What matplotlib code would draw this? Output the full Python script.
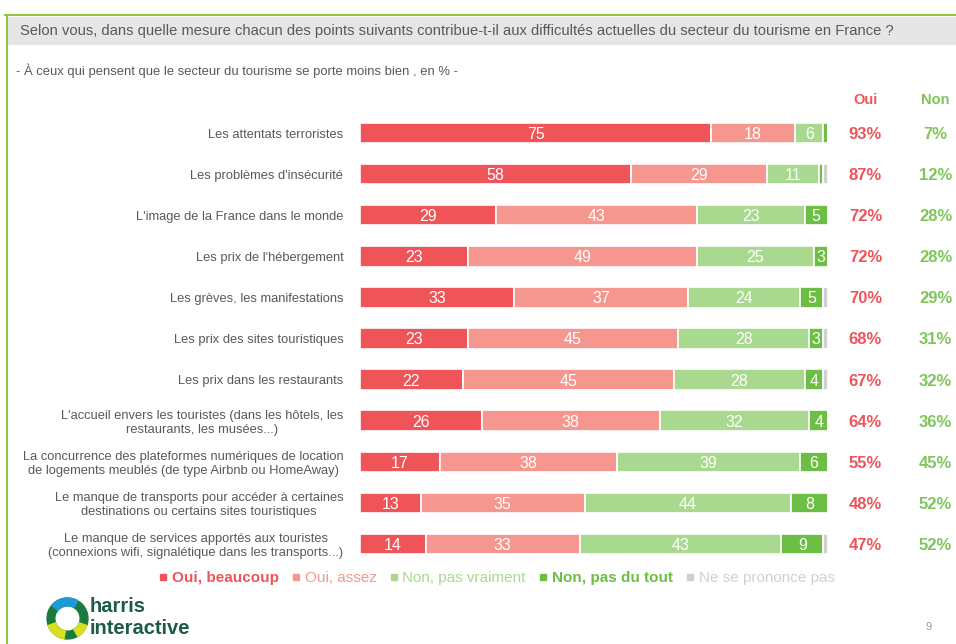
import numpy as np
import matplotlib.pyplot as plt
from matplotlib.lines import Line2D
from matplotlib.patches import Wedge, Rectangle

plt.rcParams['font.family'] = ['Liberation Sans', 'DejaVu Sans']

# donnees
items = [
    "Les attentats terroristes",
    "Les problèmes d'insécurité",
    "L'image de la France dans le monde",
    "Les prix de l'hébergement",
    "Les grèves, les manifestations",
    "Les prix des sites touristiques",
    "Les prix dans les restaurants",
    "L'accueil envers les touristes (dans les hôtels, les\nrestaurants, les musées...)",
    "La concurrence des plateformes numériques de location\nde logements meublés (de type Airbnb ou HomeAway)",
    "Le manque de transports pour accéder à certaines\ndestinations ou certains sites touristiques",
    "Le manque de services apportés aux touristes\n(connexions wifi, signalétique dans les transports...)",
]
oui_beaucoup = [75, 58, 29, 23, 33, 23, 22, 26, 17, 13, 14]
oui_assez = [18, 29, 43, 49, 37, 45, 45, 38, 38, 35, 33]
non_pas_vraiment = [6, 11, 23, 25, 24, 28, 28, 32, 39, 44, 43]
non_pas_du_tout = [1, 1, 5, 3, 5, 3, 4, 4, 6, 8, 9]
nsp = [0, 1, 0, 0, 1, 1, 1, 0, 0, 0, 1]
total_oui = [93, 87, 72, 72, 70, 68, 67, 64, 55, 48, 47]
total_non = [7, 12, 28, 28, 29, 31, 32, 36, 45, 52, 52]

series_names = ["Oui, beaucoup", "Oui, assez", "Non, pas vraiment", "Non, pas du tout", "Ne se prononce pas"]
colors = ['#EF5459', '#F5978F', '#A9D98F', '#6DBE45', '#D0D0D0']
gris = '#595959'
rouge_txt = '#EF5459'
vert_txt = '#7DC65A'

fig = plt.figure(figsize=(9.56, 6.44), dpi=100)

# cadre vert + bandeau titre
fig.add_artist(Line2D([5/956, 1], [1-15/644, 1-15/644], color='#8DC63F', lw=1.5))
fig.add_artist(Line2D([7/956, 7/956], [0, 1-15/644], color='#8DC63F', lw=1.5))
fig.add_artist(Rectangle((8/956, 1-45/644), 1, 28/644, color='#E6E6E6', lw=0))
fig.text(20/956, 1-31/644, "Selon vous, dans quelle mesure chacun des points suivants contribue-t-il aux difficultés actuelles du secteur du tourisme en France ?",
         fontsize=10.6, color=gris, va='center')
fig.text(16/956, 1-71/644, "- À ceux qui pensent que le secteur du tourisme se porte moins bien , en % -",
         fontsize=9.4, color=gris, va='center')

ax = fig.add_axes([360/956, 1-564.5/644, 468/956, 452/644])
y = np.arange(len(items))
data = [oui_beaucoup, oui_assez, non_pas_vraiment, non_pas_du_tout, nsp]
left = np.zeros(len(items))
for vals, col in zip(data, colors):
    vals = np.array(vals)
    ax.barh(y, vals, left=left, height=0.5, color=col, edgecolor='white', linewidth=1.2)
    for yi, v, l in zip(y, vals, left):
        if v >= 3:
            ax.text(l + v/2, yi, str(v), ha='center', va='center_baseline', color='white', fontsize=11.5)
    left += vals

ax.set_xlim(0, 100)
ax.set_ylim(len(items)-0.5, -0.5)
ax.set_yticks(y)
ax.set_yticklabels(items, fontsize=9.3, color=gris, multialignment='center')
ax.tick_params(axis='y', length=0, pad=12)
ax.set_xticks([])
for s in ax.spines.values():
    s.set_visible(False)

# colonnes Oui / Non
for yi, o, n in zip(y, total_oui, total_non):
    ax.text(108, yi, f"{o}%", ha='center', va='center_baseline', color=rouge_txt, fontsize=12, fontweight='bold', clip_on=False)
    ax.text(123, yi, f"{n}%", ha='center', va='center_baseline', color=vert_txt, fontsize=12, fontweight='bold', clip_on=False)
ax.text(108, -0.8, "Oui", ha='center', va='center', color=rouge_txt, fontsize=10.5, fontweight='bold', clip_on=False)
ax.text(123, -0.8, "Non", ha='center', va='center', color=vert_txt, fontsize=10.5, fontweight='bold', clip_on=False)

# legende
handles = [Line2D([], [], marker='s', ls='', color=c, markersize=4) for c in colors]
leg = fig.legend(handles, series_names, loc='center', bbox_to_anchor=(497/956, 1-578/644), ncol=5,
                 frameon=False, handlelength=0.5, handletextpad=0.3, columnspacing=0.9,
                 fontsize=11, labelcolor=colors)
for i, t in enumerate(leg.get_texts()):
    if i in (0, 3):
        t.set_fontweight('bold')

# logo
lax = fig.add_axes([45/956, 1-641/644, 45/956, 45/644])
lax.set_xlim(-1.1, 1.1)
lax.set_ylim(-1.1, 1.1)
lax.set_aspect('equal')
lax.axis('off')
for a1, a2, c in [(0, 360, '#1B7A3E'), (200, 260, '#D6E020'), (300, 340, '#D6E020'), (60, 140, '#1E9AD6')]:
    lax.add_patch(Wedge((0, 0), 1.0, a1, a2, width=0.38, color=c))
fig.text(90/956, 1-607/644, "harris", fontsize=14.5, fontweight='bold', color='#1D5B45', va='center')
fig.text(90/956, 1-628/644, "interactive", fontsize=14.5, fontweight='bold', color='#1D5B45', va='center')
fig.text(926/956, 1-627/644, "9", fontsize=8, color='#999999', va='center')

fig.savefig('out.png', dpi=100)
